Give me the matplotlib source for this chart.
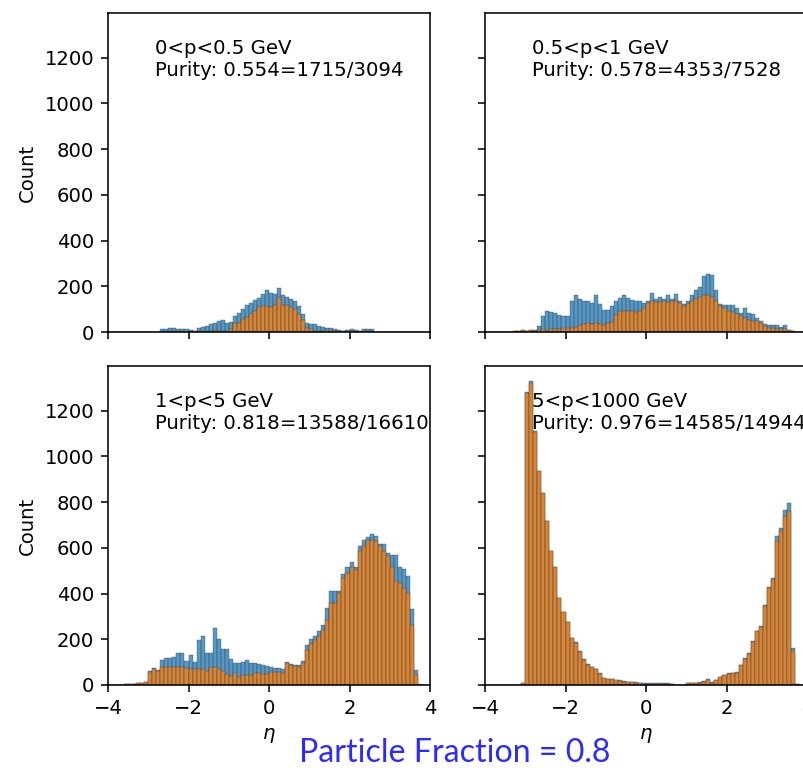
import numpy as np
import matplotlib
matplotlib.use("Agg")
import matplotlib.pyplot as plt

# ---- data (80 bins of width 0.1 from -4 to 4) ----
bin_edges = np.round(np.arange(-4.0, 4.0001, 0.1), 2)

def full(start, vals):
    a = [0] * 80
    for i, v in enumerate(vals):
        a[start + i] = v
    return a

titles = ["0<p<0.5 GeV", "0.5<p<1 GeV", "1<p<5 GeV", "5<p<1000 GeV"]
purity_texts = ["Purity: 0.554=1715/3094", "Purity: 0.578=4353/7528",
                "Purity: 0.818=13588/16610", "Purity: 0.976=14585/14944"]

# panel 1: 0<p<0.5
p1_all = full(13, [11, 15, 19, 16, 12, 11, 15, 8, 6, 16, 22, 27, 34, 41, 48, 51, 41, 45,
                   70, 85, 99, 118, 128, 139, 150, 165, 182, 172, 165, 191, 162, 153, 143, 136, 114, 77,
                   41, 37, 37, 27, 22, 19, 16, 12, 8, 6, 8, 11, 8, 6, 11, 11, 11])
p1_pure = full(20, [6, 3, 3, 4, 5, 5, 8, 6, 5, 6, 12,
                    40, 40, 58, 65, 80, 94, 109, 113, 113, 109, 119, 152, 119, 116, 109, 99, 80, 51,
                    19, 11, 5, 6, 6, 8, 5, 5, 4, 4, 5, 6, 4, 3, 3, 3, 3])

# panel 2: 0.5<p<1
p2_all = full(7, [5, 5, 10, 5, 8, 10, 25, 68, 90, 87, 83, 75, 68, 68,
                  137, 160, 145, 134, 134, 126, 163, 122, 97, 97,
                  112, 137, 148, 160, 148, 141, 137, 134, 126, 137,
                  170, 145, 155, 145, 163, 145, 166, 137, 122, 137,
                  163, 185, 195, 247, 252, 249, 185, 122, 119, 119,
                  119, 104, 83, 104, 83, 78, 61, 49, 35, 32,
                  32, 32, 20, 32, 10, 4])
p2_pure = full(7, [5, 5, 10, 5, 8, 6, 8, 11, 8, 11, 11, 11, 17, 17,
                   17, 20, 32, 35, 39, 35, 39, 35, 32, 39,
                   43, 75, 90, 93, 90, 90, 87, 90, 104, 126,
                   134, 131, 131, 134, 131, 134, 137, 126, 112, 122,
                   134, 145, 151, 163, 160, 151, 134, 112, 104, 93,
                   87, 78, 68, 61, 54, 46, 46, 39, 25, 17,
                   17, 14, 11, 11, 8, 4])

# panel 3: 1<p<5
p3_all = full(4, [5, 5, 5, 10, 10, 15, 62, 73, 66,
                  110, 117, 117, 121, 139, 139, 107, 131, 102, 197, 215, 139, 139, 248, 200, 156, 156, 112,
                  95, 98, 102, 110, 95, 95, 90, 88, 83, 80, 73, 73, 69,
                  102, 92, 88, 88, 107, 175, 200, 215, 234, 263, 336, 409, 409, 409, 486, 518, 540,
                  518, 609, 635, 647, 661, 650, 618, 618, 577, 569, 569, 518, 507, 477, 333, 66, 3])
p3_pure = full(4, [5, 5, 5, 10, 10, 15, 58, 69, 63,
                   80, 77, 80, 80, 80, 80, 74, 69, 69, 69, 69, 63, 77, 77, 69, 63, 48, 39,
                   54, 37, 44, 44, 44, 54, 51, 48, 48, 55, 55, 55, 51,
                   98, 88, 83, 80, 98, 153, 180, 197, 215, 241, 285, 358, 358, 401, 467, 489, 518,
                   504, 584, 609, 632, 632, 628, 609, 584, 562, 518, 453, 445, 423, 401, 263, 44, 0])

# panel 4: 5<p<1000
p4_all = full(9, [7, 1280, 1329, 1110, 934, 840, 715, 584, 518, 380, 321, 277,
                  207, 190, 150, 112, 90, 80, 72, 54, 32, 28, 27, 24, 20, 16, 14, 13, 11, 10, 8,
                  7, 8, 8, 8, 8, 8, 6, 0, 0, 0, 10, 10, 10, 12, 17, 25, 12, 22, 34, 44, 51, 54, 56,
                  88, 117, 139, 194, 238, 258, 350, 428, 466, 650, 686, 767, 796, 162, 4])
p4_pure = full(9, [7, 1275, 1320, 1108, 934, 840, 715, 584, 518, 380, 321, 277,
                   204, 185, 146, 110, 88, 77, 69, 50, 29, 25, 25, 22, 18, 15, 13, 12, 10, 9, 6,
                   4, 4, 4, 4, 4, 4, 4, 0, 0, 0, 8, 8, 8, 10, 15, 23, 10, 20, 33, 42, 49, 52, 54,
                   86, 115, 137, 190, 235, 255, 346, 424, 460, 628, 672, 737, 759, 150, 3])

all_counts = [p1_all, p2_all, p3_all, p4_all]
pure_counts = [p1_pure, p2_pure, p3_pure, p4_pure]

# ---- figure ----
DPI = 141
fig = plt.figure(figsize=(803 / DPI, 768 / DPI), dpi=DPI)

W, H = 803, 768
ax_w, ax_h = 322, 319
lefts = [108, 485]
tops = [13, 366]

axes = []
for r in range(2):
    for c in range(2):
        rect = [lefts[c] / W, 1 - (tops[r] + ax_h) / H, ax_w / W, ax_h / H]
        axes.append(fig.add_axes(rect))

width = bin_edges[1] - bin_edges[0]
lefts_bins = bin_edges[:-1]
for i, ax in enumerate(axes):
    ax.bar(lefts_bins, all_counts[i], width=width, align="edge",
           color="C0", alpha=0.75, edgecolor="#333333", linewidth=0.22)
    ax.bar(lefts_bins, pure_counts[i], width=width, align="edge",
           color="C1", alpha=0.75, edgecolor="#333333", linewidth=0.22)
    ax.set_xlim(-4, 4)
    ax.set_ylim(0, 1395)
    ax.set_xticks([-4, -2, 0, 2, 4])
    ax.set_yticks([0, 200, 400, 600, 800, 1000, 1200])
    ax.text(0.145, 0.79, titles[i] + "\n" + purity_texts[i], transform=ax.transAxes,
            ha="left", va="bottom", fontsize=10.1)
    r, c = divmod(i, 2)
    if r == 0:
        ax.tick_params(labelbottom=False)
    else:
        ax.set_xlabel(r"$\eta$")
    if c == 1:
        ax.tick_params(labelleft=False)
    else:
        ax.set_ylabel("Count")

fig.text(455 / W, 1 - 753 / H, "Particle Fraction = 0.8", color="#2b2bff",
         fontsize=16.4, family=["Lato", "DejaVu Sans"], ha="center", va="center")

fig.savefig("out.png", dpi=DPI)
